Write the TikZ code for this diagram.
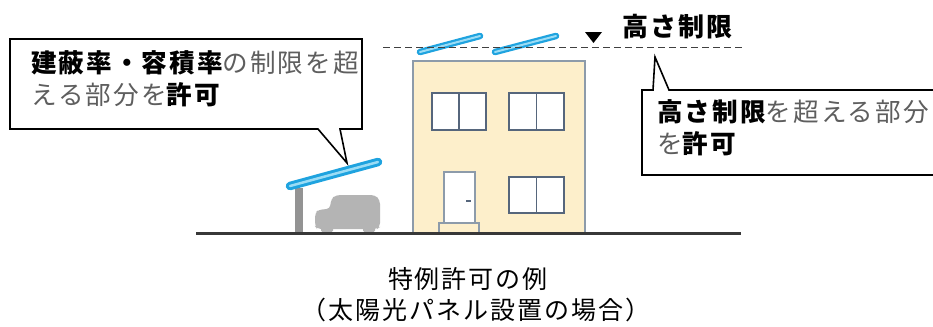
\documentclass[tikz,border=0pt]{standalone}
\usepackage{fontspec}
\newfontfamily\jp{Noto Sans CJK JP}[LetterSpace=8]
\newcommand\bk[1]{{\bfseries\color{black}#1}}
\definecolor{panelblue}{HTML}{1FA3DF}
\definecolor{panellight}{HTML}{9BDCF5}
\definecolor{wallfill}{HTML}{FDEFCB}
\definecolor{wallline}{HTML}{8D9BAA}
\definecolor{frameline}{HTML}{56667C}
\definecolor{txtgray}{HTML}{5E5E5E}
\definecolor{cargray}{HTML}{B4B4B4}
\tikzset{
  label/.style={inner sep=0pt, anchor=west, font=\jp\fontsize{25.6bp}{28bp}\selectfont, text=txtgray},
  title/.style={inner sep=0pt, font=\jp\fontsize{25bp}{28bp}\selectfont, text=black},
  callout/.style={draw=black, fill=white, line width=1.6bp, line join=miter},
  panelout/.style={draw=panelblue, line cap=round},
  panelin/.style={draw=panellight, line cap=round},
  wall/.style={fill=wallfill, draw=wallline, line width=1.4bp},
  window/.style={fill=white, draw=frameline, line width=1.4bp},
}
\begin{document}
\begin{tikzpicture}[x=1bp,y=-1bp]
\clip (0,0) rectangle (933,326);
\fill[white] (0,0) rectangle (933,326);

% house
\draw[wall] (413,61) rectangle (585,233);
\draw[window] (432,93) rectangle (486,130);
\draw[frameline, line width=1.4bp] (459,93) -- (459,130);
\draw[window] (509,93) rectangle (564,130);
\draw[frameline, line width=1.4bp] (536.5,93) -- (536.5,130);
\draw[window] (509,177) rectangle (564,213);
\draw[frameline, line width=1.4bp] (536.5,177) -- (536.5,213);
\draw[fill=white, draw=wallline, line width=1.4bp] (444,172) rectangle (475,223);
\draw[frameline, line width=2bp] (466,201) -- (471,201);
\draw[wall] (439,223) rectangle (479,233);

% rooftop panels
\draw[panelout, line width=6.5bp] (420,52) -- (480,36);
\draw[panelin, line width=2bp] (420,52) -- (480,36);
\draw[panelout, line width=6.5bp] (495,52) -- (556,36);
\draw[panelin, line width=2bp] (495,52) -- (556,36);

% height limit
\draw[black!75, line width=1bp, dash pattern=on 7bp off 4bp] (383,47) -- (743,47);
\fill[black] (585,32) -- (602,32) -- (593.5,43) -- cycle;
\node[title, anchor=west, font=\jp\bfseries\fontsize{26bp}{28bp}\selectfont] (limit) at (622,27) {高さ制限};

% carport and car
\fill[gray!85] (295,188) rectangle (303,233);
\fill[cargray, rounded corners=4bp] (317,229) -- (315,226) -- (315,213) -- (319,209.5)
  -- (330,209) -- (331,199) -- (336,195) -- (375,195) -- (380,200) -- (380,227) -- (377,229) -- cycle;
\fill[cargray, rounded corners=1.5bp] (321,224) rectangle (333,232);
\fill[cargray, rounded corners=1.5bp] (363,224) rectangle (375,232);
\coordinate (cpA) at (290,186);
\coordinate (cpB) at (378,162);
\draw[panelout, line width=8.5bp] (cpA) -- (cpB);
\draw[panelin, line width=2.5bp] (cpA) -- (cpB);

% ground
\draw[black!78, line width=3bp] (196,233) -- (741,233);

% left callout
\coordinate (tipL) at (347,163);
\draw[callout] (10,39) -- (362,39) -- (362,129) -- (340,129) -- (tipL) -- (318,129) -- (10,129) -- cycle;
\node[label] (l1) at (31,63) {\bk{建蔽率・容積率}の制限を超};
\node[label] (l2) at (31,95) {える部分を\bk{許可}};

% right callout
\coordinate (tipR) at (655,57);
\draw[callout] (642,90) -- (653,90) -- (tipR) -- (669,90) -- (950,90) -- (950,175) -- (642,175) -- cycle;
\node[label] (r1) at (657,112) {\bk{高さ制限}を超える部分};
\node[label] (r2) at (657,144) {を\bk{許可}};

% caption
\node[title] (cap1) at (468,279) {特例許可の例};
\node[title] (cap2) at (476,310) {（太陽光パネル設置の場合）};
\end{tikzpicture}
\end{document}
